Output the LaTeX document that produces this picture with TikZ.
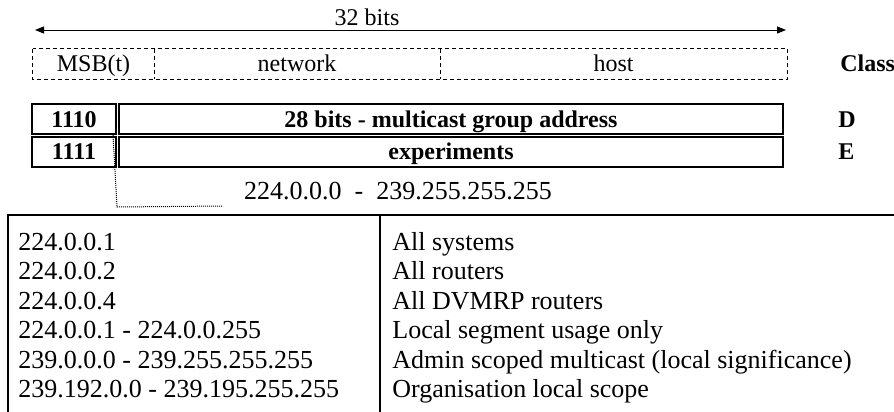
\documentclass[tikz,border=0pt]{standalone}
\usepackage{fontspec}
\setmainfont{Liberation Serif}
\usetikzlibrary{arrows.meta, positioning}
\tikzset{
  % thin default lines, sizes in pt so the picture matches the page
  every picture/.append style = {line width=0.8pt},
  widtharrow/.style = {{Triangle[length=9pt,width=7pt]}-{Triangle[length=9pt,width=7pt]},
                       line width=0.9pt},
  dashbox/.style    = {dash pattern=on 4pt off 3pt, line width=0.8pt},
  dashcell/.style   = {minimum height=30pt, inner sep=0pt,
                       font=\fontsize{24}{28}\selectfont, text height=18pt, text depth=2pt},
  bitcell/.style    = {draw, line width=2pt, minimum height=30pt, inner sep=0pt,
                       font=\fontsize{24}{28}\selectfont\bfseries, text height=18pt, text depth=2pt},
  lbl/.style        = {font=\fontsize{24}{28}\selectfont, inner sep=0pt},
  blbl/.style       = {font=\fontsize{24}{28}\selectfont\bfseries, inner sep=0pt},
  tbl/.style        = {font=\fontsize{26}{30}\selectfont, inner sep=0pt, anchor=base west},
  tblrule/.style    = {line width=1.6pt},
  linkdots/.style   = {densely dotted, line width=1pt},
}

\begin{document}
\begin{tikzpicture}[x=1pt,y=-1pt]
  \useasboundingbox (0,0) rectangle (894,412);
  % address width
  \coordinate (wl) at (35,30);
  \coordinate (wr) at (786,30);
  \draw[widtharrow] (wl) -- (wr);
  \node[lbl, anchor=base] (bits) at (367,26) {32 bits};
  % generic layout, dashed
  \node[dashcell, minimum width=121pt] (msb) at (93.5,64) {MSB(t)};
  \node[dashcell, minimum width=286pt] (net) at (297,64) {network};
  \node[dashcell, minimum width=347pt] (host) at (613.5,64) {host};
  \draw[dashbox] (msb.north west) rectangle (host.south east);
  \draw[dashbox] (msb.north east) -- (msb.south east) (net.north east) -- (net.south east);
  \node[blbl, anchor=base west] (cls) at (840,72) {Class};
  % class D and E
  \node[bitcell, minimum width=84pt] (pfxd) at (74,119) {1110};
  \node[bitcell, minimum width=664pt] (grp) at (451,119) {28 bits - multicast group address};
  \node[bitcell, minimum width=84pt] (pfxe) at (74,151.5) {1111};
  \node[bitcell, minimum width=664pt] (expt) at (451,151.5) {experiments};
  \node[blbl, anchor=base west] (clsd) at (838,127) {D};
  \node[blbl, anchor=base west] (clse) at (838,159.5) {E};
  % class D range
  \node[tbl, anchor=base] (range) at (398,199) {224.0.0.0\ \ -\ \ 239.255.255.255};
  \coordinate (dotend) at (223,206);
  \draw[linkdots] ([xshift=-4pt]pfxd.south east) -- ++(4,72) -- (dotend);
  % table of well known groups
  \coordinate (tl) at (8,215);
  \coordinate (tr) at (894,215);
  \coordinate (tb) at (8,412);
  \coordinate (mt) at (380,215);
  \coordinate (mb) at (380,412);
  \draw[tblrule] (tb) -- (tl) -- (tr);
  \draw[tblrule, line width=2pt] (mt) -- (mb);
  \node[tbl] (a1) at (18,250) {224.0.0.1};
  \node[tbl] (a2) at (18,279.5) {224.0.0.2};
  \node[tbl] (a3) at (18,309) {224.0.0.4};
  \node[tbl] (a4) at (18,338.5) {224.0.0.1 - 224.0.0.255};
  \node[tbl] (a5) at (18,368) {239.0.0.0 - 239.255.255.255};
  \node[tbl] (a6) at (18,397.5) {239.192.0.0 - 239.195.255.255};
  \node[tbl] (u1) at (392,250) {All systems};
  \node[tbl] (u2) at (392,279.5) {All routers};
  \node[tbl] (u3) at (392,309) {All DVMRP routers};
  \node[tbl] (u4) at (392,338.5) {Local segment usage only};
  \node[tbl] (u5) at (392,368) {Admin scoped multicast (local significance)};
  \node[tbl] (u6) at (392,397.5) {Organisation local scope};
\end{tikzpicture}
\end{document}
